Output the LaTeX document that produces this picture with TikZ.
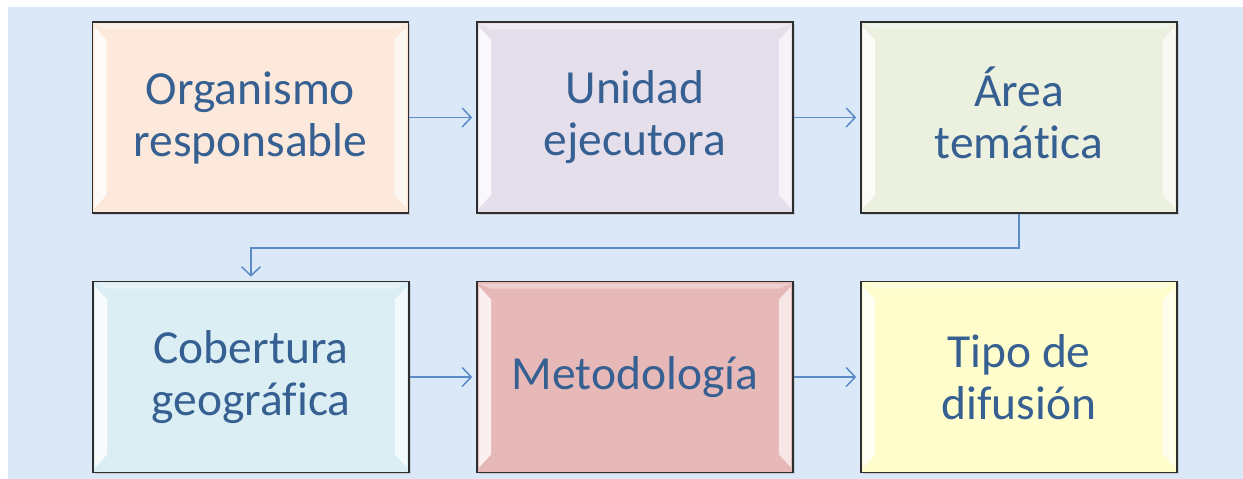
\documentclass[tikz,border=0pt]{standalone}
\usepackage{fontspec}
\setmainfont{Carlito}[Ligatures=NoCommon]
\usetikzlibrary{arrows.meta,calc,shadows}
\definecolor{bgblue}{HTML}{DBE8F8}
\definecolor{txtblue}{HTML}{376092}
\definecolor{arrblue}{HTML}{5B8BC8}
\definecolor{fa}{HTML}{FCE9DB}
\definecolor{fb}{HTML}{E5DFEC}
\definecolor{fc}{HTML}{EBF0DF}
\definecolor{fd}{HTML}{DBEEF4}
\definecolor{fe}{HTML}{E6B8B7}
\definecolor{ff}{HTML}{FFFDCC}
\definecolor{edge}{HTML}{2E2E2E}
\tikzset{
  box/.style={draw=edge, line width=1.6pt, minimum width=316pt, minimum height=191pt,
    inner sep=0pt, align=center, text=txtblue,
    font=\fontsize{47.5}{52}\selectfont,
    drop shadow={opacity=0.25, shadow xshift=1.5pt, shadow yshift=-1.5pt}},
  arr/.style={draw=arrblue, line width=1.5pt,
    -{Straight Barb[length=9pt, width=19pt, line width=1.5pt]}, shorten >=4pt},
  bevel/.style={fill=white, opacity=0.8, draw=none}
}
\begin{document}
\begin{tikzpicture}[x=1pt, y=-1pt]
\useasboundingbox (0,0) rectangle (1243,479);
\fill[white] (0,0) rectangle (1243,479);
\fill[bgblue] (8,7) rectangle (1243,479);

\node[box, fill=fa] (b1) at (250.5,117.5) {Organismo\\responsable};
\node[box, fill=fb] (b2) at (635,117.5) {Unidad\\ejecutora};
\node[box, fill=fc] (b3) at (1019,117.5) {\smash{Á}\vphantom{A}rea\\temática};
\node[box, fill=fd] (b4) at (251,377) {Cobertura\\geográfica};
\node[box, fill=fe] (b5) at (635,377) {Metodología};
\node[box, fill=ff] (b6) at (1019,377) {Tipo de\\difusión};

\foreach \n in {b1,b2,b3,b4,b5,b6}{
  \fill[bevel] ($(\n.north west)+(3,6)$) -- ($(\n.north west)+(15,19)$)
     -- ($(\n.south west)+(15,-19)$) -- ($(\n.south west)+(3,-6)$) -- cycle;
  \fill[bevel, opacity=0.65] ($(\n.north east)+(-3,6)$) -- ($(\n.north east)+(-15,19)$)
     -- ($(\n.south east)+(-15,-19)$) -- ($(\n.south east)+(-3,-6)$) -- cycle;
  \fill[bevel, opacity=0.35] ($(\n.north west)+(3,3)$) -- ($(\n.north east)+(-3,3)$)
     -- ($(\n.north east)+(-15,8)$) -- ($(\n.north west)+(15,8)$) -- cycle;
}

\draw[arr] (b1.east) -- (b2.west);
\draw[arr] (b2.east) -- (b3.west);
\draw[arr] (b3.south) -- ++(0,34) -| (b4.north);
\draw[arr] (b4.east) -- (b5.west);
\draw[arr] (b5.east) -- (b6.west);
\end{tikzpicture}
\end{document}
